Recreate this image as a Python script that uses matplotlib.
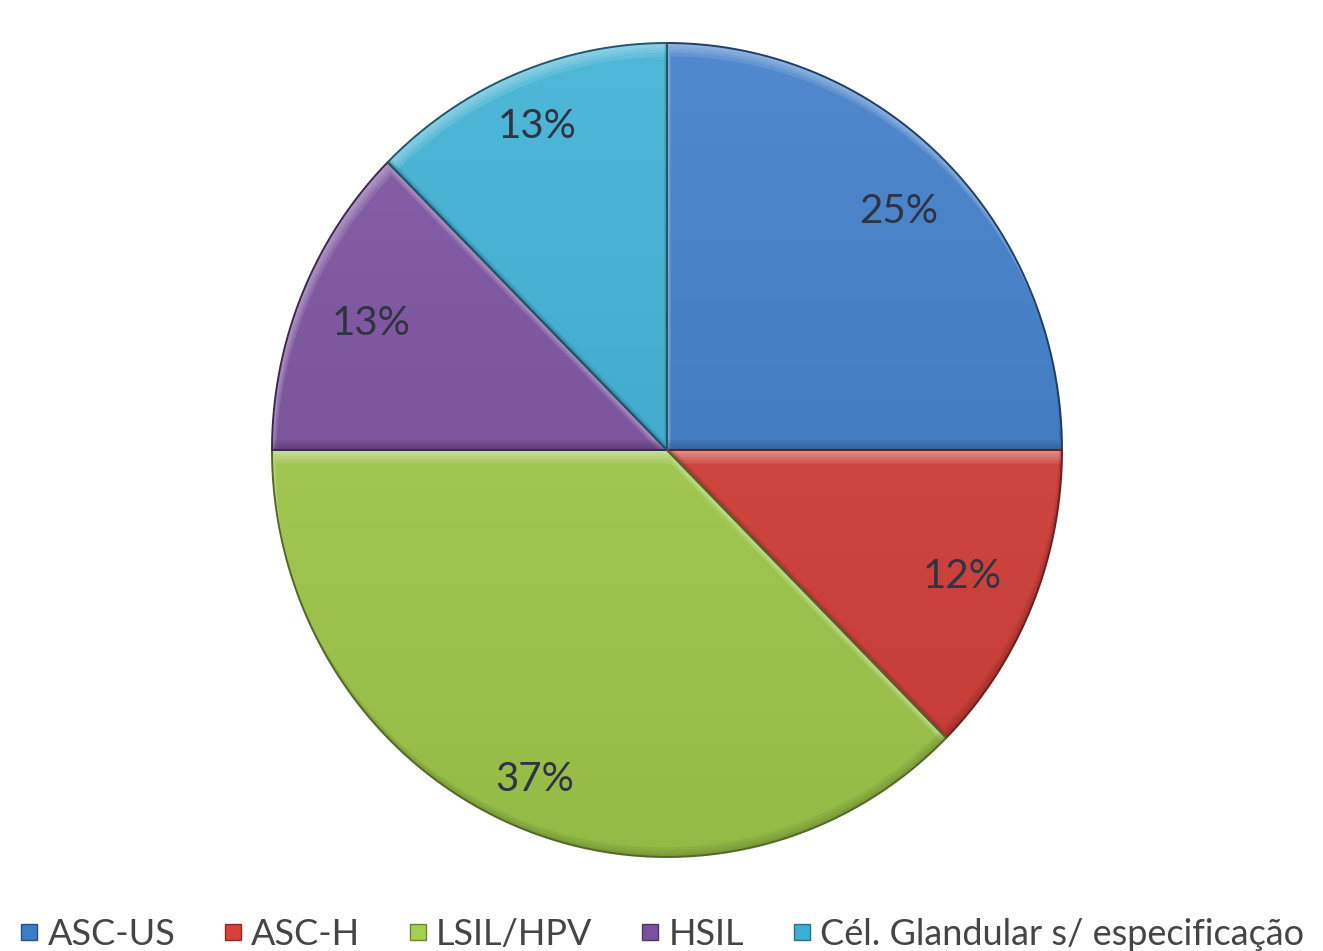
import numpy as np
import matplotlib

matplotlib.use("Agg")
import matplotlib.pyplot as plt
from matplotlib.colors import to_rgb
from matplotlib.lines import Line2D
from matplotlib.patches import PathPatch
from matplotlib.path import Path

categories = ["ASC-US", "ASC-H", "LSIL/HPV", "HSIL", "Cél. Glandular s/ especificação"]
shares = [25, 12.5, 37.5, 12.5, 12.5]
pct_labels = ["25%", "12%", "37%", "13%", "13%"]
colors = ["#3d7cc9", "#d8403a", "#a5cf4e", "#7b509f", "#3cb0d4"]

# label distance from centre, as a fraction of the radius (Excel "best fit")
label_radius = [0.83, 0.81, 0.875, 0.81, 0.86]

W_PX, H_PX = 1323, 951
CX, CY, RX, RY = 667, 450, 395, 407

plt.rcParams["font.family"] = ["Lato", "DejaVu Sans"]


def lighten(c, f):
    c = np.array(to_rgb(c))
    return tuple(c + (1 - c) * f)


def darken(c, f):
    c = np.array(to_rgb(c))
    return tuple(c * (1 - f))


def wedge_polygon(wedge):
    t = np.deg2rad(np.linspace(wedge.theta1, wedge.theta2, 240))
    cx, cy = wedge.center
    arc = np.column_stack([cx + wedge.r * np.cos(t), cy + wedge.r * np.sin(t)])
    return np.vstack([[cx, cy], arc, [cx, cy]])


def band(poly, dx, dy):
    shifted = poly + np.array([dx, dy])
    return Path.make_compound_path(Path(poly), Path(shifted[::-1]))


fig = plt.figure(figsize=(W_PX / 100, H_PX / 100), dpi=100)
ax = fig.add_axes([0, 0, 1, 1])
wedges, _ = ax.pie(shares, colors=colors, startangle=90, counterclock=False, radius=1,
                   wedgeprops=dict(linewidth=0))

light_dir = np.array([-0.3, 1.0])
light_dir = light_dir / np.linalg.norm(light_dir)

for wedge, color in zip(wedges, colors):
    wedge.set_zorder(1)
    poly = wedge_polygon(wedge)

    grad = np.linspace(0, 1, 256)[:, None]
    top, bottom = np.array(lighten(color, 0.10)), np.array(darken(color, 0.10))
    img = (top[None, None, :] * (1 - grad[..., None]) + bottom[None, None, :] * grad[..., None])
    im = ax.imshow(img, extent=(-1, 1, -1, 1), aspect="auto", interpolation="bilinear", zorder=1.5)
    im.set_clip_path(wedge)

    # soft bevel: light band on edges facing the light, dark band on the others
    for d in [2, 4, 7, 10, 14]:
        p = PathPatch(band(poly, -light_dir[0] * d / RX, -light_dir[1] * d / RY),
                      facecolor=lighten(color, 0.6), edgecolor="none", alpha=0.2, zorder=2)
        ax.add_patch(p)
        p.set_clip_path(wedge)
    for d in [2, 4, 7, 10]:
        p = PathPatch(band(poly, light_dir[0] * d / RX, light_dir[1] * d / RY),
                      facecolor=darken(color, 0.45), edgecolor="none", alpha=0.14, zorder=2)
        ax.add_patch(p)
        p.set_clip_path(wedge)

    ax.add_patch(PathPatch(Path(poly), facecolor="none", edgecolor=darken(color, 0.5),
                           linewidth=1.4, zorder=3))

for wedge, text, r in zip(wedges, pct_labels, label_radius):
    mid = np.deg2rad((wedge.theta1 + wedge.theta2) / 2)
    ax.text(r * np.cos(mid), r * np.sin(mid), text, ha="center", va="center",
            fontsize=29, color="#2f3444", zorder=4)

ax.set_aspect("auto")
ax.set_xlim(-CX / RX, (W_PX - CX) / RX)
ax.set_ylim(-(H_PX - CY) / RY, CY / RY)
ax.set_axis_off()

handles = [Line2D([], [], marker="s", linestyle="none", markersize=12,
                  markerfacecolor=c, markeredgecolor=darken(c, 0.35)) for c in colors]
fig.legend(handles, categories, ncol=5, loc="upper left", bbox_to_anchor=(0.014, 0.035),
           frameon=False, fontsize=26, handlelength=0.6, handletextpad=0.2,
           columnspacing=1.3, borderpad=0, borderaxespad=0, labelcolor="#454545")

fig.savefig("out.png", dpi=100, facecolor="white")
